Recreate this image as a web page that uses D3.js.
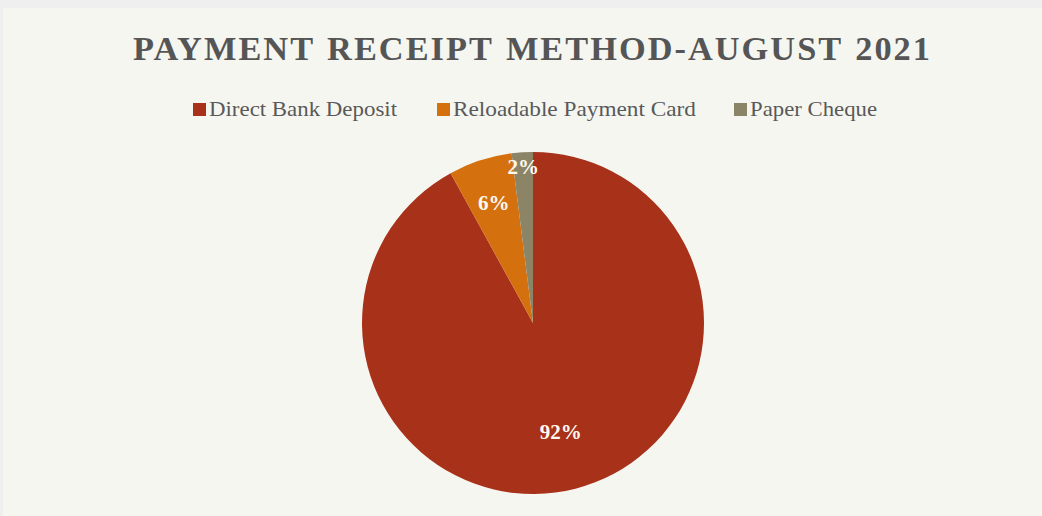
<!DOCTYPE html>
<html>
<head>
<meta charset="utf-8">
<script src="https://cdn.jsdelivr.net/npm/d3@7"></script>
<style>
html,body{margin:0;padding:0;background:#efefef;}
svg{display:block;}
</style>
</head>
<body>
<svg id="chart" width="1042" height="516"></svg>
<script>
const categories = ["Direct Bank Deposit", "Reloadable Payment Card", "Paper Cheque"];
const values = [92, 6, 2];
const valueLabels = ["92%", "6%", "2%"];
const colors = ["#a8311a", "#d5700f", "#8c8466"];
const titleText = "PAYMENT RECEIPT METHOD-AUGUST 2021";

const svg = d3.select("#chart");
svg.append("rect").attr("x", 3).attr("y", 8).attr("width", 1039).attr("height", 508).attr("fill", "#f6f6f1");

svg.append("text")
  .attr("x", 133).attr("y", 60)
  .attr("textLength", 799).attr("lengthAdjust", "spacingAndGlyphs")
  .attr("font-family", "'Liberation Serif','Times New Roman',serif")
  .attr("font-weight", "bold").attr("font-size", 34)
  .attr("letter-spacing", 2).attr("word-spacing", 2)
  .attr("fill", "#555555")
  .text(titleText);

// Legend
const legendX = [193, 437, 734];
const legendW = [188, 243, 127];
const lg = svg.append("g");
categories.forEach((c, i) => {
  lg.append("rect").attr("x", legendX[i]).attr("y", 103).attr("width", 13).attr("height", 13).attr("fill", colors[i]);
  lg.append("text").attr("x", legendX[i] + 16).attr("y", 116)
    .attr("textLength", legendW[i]).attr("lengthAdjust", "spacingAndGlyphs")
    .attr("font-family", "'Liberation Serif','Times New Roman',serif")
    .attr("font-size", 21).attr("fill", "#595959").text(c);
});

// Pie
const cx = 533, cy = 323, r = 171;
const pie = d3.pie().sort(null).value(d => d)(values);
const arc = d3.arc().innerRadius(0).outerRadius(r);
const g = svg.append("g").attr("transform", `translate(${cx},${cy})`);
g.selectAll("path").data(pie).join("path")
  .attr("d", arc).attr("fill", (d, i) => colors[i]);

const labelR = [112, 127, 157];
g.selectAll("text.lbl").data(pie).join("text")
  .attr("class", "lbl")
  .attr("transform", (d, i) => {
    const a = (d.startAngle + d.endAngle) / 2;
    return `translate(${Math.sin(a) * labelR[i]},${-Math.cos(a) * labelR[i]})`;
  })
  .attr("text-anchor", "middle").attr("dy", "0.35em")
  .attr("font-family", "'Liberation Serif','Times New Roman',serif")
  .attr("font-weight", "bold").attr("font-size", 21)
  .attr("fill", "#fffaf0")
  .text((d, i) => valueLabels[i]);
</script>
</body>
</html>
